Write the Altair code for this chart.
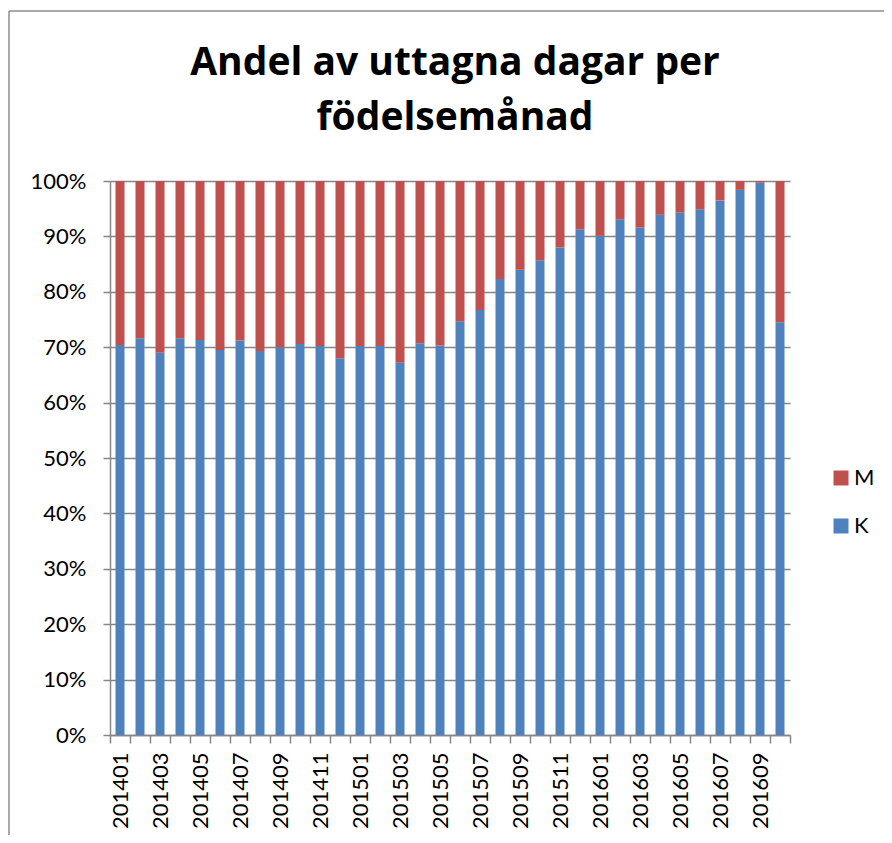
import altair as alt
import pandas as pd

months = [
    "201401", "201402", "201403", "201404", "201405", "201406", "201407", "201408",
    "201409", "201410", "201411", "201412", "201501", "201502", "201503", "201504",
    "201505", "201506", "201507", "201508", "201509", "201510", "201511", "201512",
    "201601", "201602", "201603", "201604", "201605", "201606", "201607", "201608",
    "201609", "201610",
]
share_k = [
    70.4, 71.6, 69.0, 71.6, 71.3, 69.5, 71.2, 69.3,
    70.0, 70.6, 70.2, 68.0, 70.2, 70.2, 67.2, 70.7,
    70.3, 74.7, 76.7, 82.3, 84.0, 85.7, 88.0, 91.3,
    90.1, 93.1, 91.6, 93.9, 94.3, 94.9, 96.5, 98.4,
    99.7, 74.5,
]
share_m = [round(100 - v, 1) for v in share_k]
series = ["M", "K"]
colors = ["#C0504D", "#4F81BD"]
title_lines = ["Andel av uttagna dagar per", "födelsemånad"]

rows = []
for m, k, mm in zip(months, share_k, share_m):
    rows.append({"month": m, "serie": "K", "value": k, "ord": 0})
    rows.append({"month": m, "serie": "M", "value": mm, "ord": 1})
df = pd.DataFrame(rows)

FONT = "Lato"
TITLE_FONT = "Open Sans"

bars = alt.Chart(df).mark_bar(size=9).encode(
    x=alt.X("month:N", sort=months, title=None,
            scale=alt.Scale(paddingInner=0, paddingOuter=0),
            axis=alt.Axis(labelAngle=-90, labelOverlap=False, tickBand="extent",
                          tickExtra=True, tickSize=8, labelPadding=9,
                          labelExpr="toNumber(substring(datum.value,4,6)) % 2 == 1 ? datum.value : ''",
                          labelFontSize=22, labelFont=FONT, labelColor="black",
                          domainColor="#868686", domainWidth=1.5,
                          tickColor="#868686", tickWidth=1.5, grid=False)),
    y=alt.Y("value:Q", stack="normalize", title=None,
            scale=alt.Scale(domain=[0, 1], nice=False),
            axis=alt.Axis(format=".0%", values=[i / 10 for i in range(11)],
                          tickSize=7, labelPadding=17, labelFontSize=22,
                          labelFont=FONT, labelColor="black",
                          domainColor="#868686", domainWidth=1.5,
                          tickColor="#868686", tickWidth=1.5,
                          grid=True, gridColor="#868686", gridWidth=1.5)),
    color=alt.Color("serie:N", scale=alt.Scale(domain=series, range=colors),
                    legend=alt.Legend(title=None, orient="none", legendX=720, legendY=286,
                                      symbolType="square", symbolSize=225,
                                      symbolStrokeWidth=0, labelFontSize=22,
                                      labelFont=FONT, labelColor="black",
                                      rowPadding=26, labelOffset=2, padding=0)),
    order=alt.Order("ord:Q"),
)

frame_df = pd.DataFrame({"a": [0]})
left_line = alt.Chart(frame_df).mark_rule(color="#8c8c8c", strokeWidth=1.5).encode(
    x=alt.value(-101), y=alt.value(-170), y2=alt.value(700))
top_line = alt.Chart(frame_df).mark_rule(color="#8c8c8c", strokeWidth=1.5).encode(
    x=alt.value(-101), x2=alt.value(800), y=alt.value(-170))

title1 = alt.Chart(pd.DataFrame({"t": [title_lines[0]]})).mark_text(
    font=TITLE_FONT, fontSize=39, fontWeight="bold", color="black",
    align="center", baseline="alphabetic").encode(
    text="t:N", x=alt.value(345), y=alt.value(-106.5))
title2 = alt.Chart(pd.DataFrame({"t": [title_lines[1]]})).mark_text(
    font=TITLE_FONT, fontSize=39, fontWeight="bold", color="black",
    align="center", baseline="alphabetic").encode(
    text="t:N", x=alt.value(345), y=alt.value(-51.5))

chart = alt.layer(left_line, top_line, title1, title2, bars).properties(
    width=680, height=554,
    padding={"left": 102, "top": 173, "right": 94, "bottom": 100},
    autosize=alt.AutoSizeParams(type="none"),
).configure_view(stroke=None)

chart.save("out.html", embed_options={"renderer": "svg", "actions": False})
